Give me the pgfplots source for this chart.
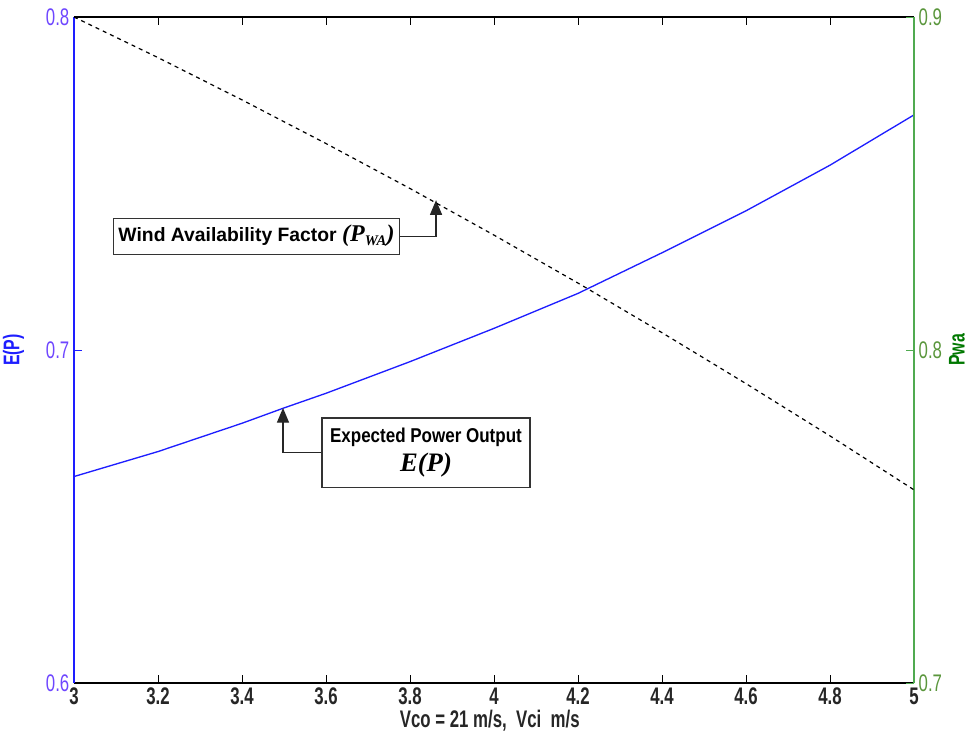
\documentclass[border=0pt]{standalone}
\usepackage{fontspec}
\setmainfont{Liberation Sans}
\newfontfamily\cond[FakeStretch=0.7]{Liberation Sans}
\newfontfamily\boxcond[FakeStretch=0.85]{Liberation Sans}
\newfontfamily\tnr{Liberation Serif}
\usepackage{pgfplots}
\pgfplotsset{compat=1.18}
\usetikzlibrary{calc,arrows.meta}
\definecolor{epblue}{RGB}{30,30,255}
\definecolor{eptick}{RGB}{110,70,255}
\definecolor{pwaline}{RGB}{80,170,80}
\definecolor{pwatick}{RGB}{90,150,60}
\definecolor{pwalabel}{RGB}{0,120,0}

\begin{document}
\begin{tikzpicture}
\pgfplotsset{
  common/.style={
    width=630pt, height=499.5pt, scale only axis,
    xmin=3, xmax=5,
    tick align=inside, major tick length=6pt,
    /pgf/number format/assume math mode=true,
  }
}
\begin{axis}[common,
  ymin=0.6, ymax=0.8,
  axis x line*=box, axis y line*=left,
  x axis line style={draw=black, line width=0.9pt},
  y axis line style={draw=epblue, line width=0.9pt},
  xtick={3,3.2,3.4,3.6,3.8,4,4.2,4.4,4.6,4.8,5},
  ytick={0.6,0.7,0.8},
  yticklabels={0.6,0.7,0.8},
  x tick style={black, line width=0.7pt},
  y tick style={epblue, line width=0.7pt},
  xticklabel style={font=\cond\bfseries\fontsize{18}{20}\selectfont, text=black!85},
  yticklabel style={font=\cond\fontsize{18}{20}\selectfont, text=eptick},
  xlabel={Vco = 21 m/s,\ \ Vci\ \ m/s},
  xlabel style={at={(axis description cs:0.495,0)}, anchor=center, yshift=-28pt,
    font=\cond\bfseries\fontsize{18}{20}\selectfont, text=black!85},
  ylabel={E(P)},
  ylabel style={at={(axis description cs:-0.072,0.5)}, anchor=center, rotate=0,
    font=\cond\bfseries\fontsize{17}{19}\selectfont, text=epblue},
]
\addplot[epblue, line width=1pt] coordinates {
  (3.0,0.6620) (3.2,0.6695) (3.4,0.6780) (3.5,0.6826) (3.6,0.6870)
  (3.8,0.6965) (4.0,0.7065) (4.2,0.7170) (4.4,0.7292) (4.6,0.7418)
  (4.8,0.7555) (5.0,0.7706)};

\node[draw=black!80, fill=white, line width=0.9pt, minimum width=215pt,
  minimum height=27pt, inner sep=0pt] (b1) at (axis cs:3.4345,0.7342)
  {\bfseries\fontsize{14.5}{17}\selectfont Wind Availability Factor
   {\tnr\bfseries\itshape\fontsize{18}{20}\selectfont (P\raisebox{-0.3ex}{\fontsize{11}{12}\selectfont WA})}};
\draw[black!85, line width=0.9pt, -{Triangle[length=11pt,width=9pt]}]
  (b1.east) -| (axis cs:3.862,0.745);

\node[draw=black!80, fill=white, line width=0.9pt, minimum width=156pt,
  minimum height=52pt, align=center, inner sep=0pt] (b2) at (axis cs:3.838,0.6692)
  {{\boxcond\bfseries\fontsize{15}{17}\selectfont Expected Power Output}\\[4pt]
   {\tnr\bfseries\itshape\fontsize{20}{22}\selectfont E(P)}};
\draw[black!85, line width=0.9pt, -{Triangle[length=11pt,width=9pt]}]
  (b2.west) -| (axis cs:3.4976,0.6826);
\end{axis}

\begin{axis}[common,
  ymin=0.7, ymax=0.9,
  axis x line=none, axis y line*=right,
  y axis line style={draw=pwaline, line width=0.9pt},
  ytick={0.7,0.8,0.9},
  yticklabels={0.7,0.8,0.9},
  y tick style={pwaline, line width=0.7pt},
  yticklabel style={font=\cond\fontsize{18}{20}\selectfont, text=pwatick},
  ylabel={Pwa},
  ylabel style={at={(axis description cs:1.051,0.5)}, anchor=center, rotate=0,
    font=\cond\bfseries\fontsize{17}{19}\selectfont, text=pwalabel},
]
\addplot[black, line width=0.9pt, dash pattern=on 3pt off 3pt] coordinates {
  (3.0,0.9000) (3.2,0.8878) (3.4,0.8751) (3.6,0.8620) (3.8,0.8485)
  (4.0,0.8345) (4.2,0.8201) (4.4,0.8052) (4.6,0.7899) (4.8,0.7742)
  (5.0,0.7580)};
\end{axis}

\pgfresetboundingbox
\path ($(current axis.south west)+(-55.5pt,-42.75pt)$) rectangle
      ($(current axis.north east)+(42pt,12.75pt)$);
\end{tikzpicture}
\end{document}
